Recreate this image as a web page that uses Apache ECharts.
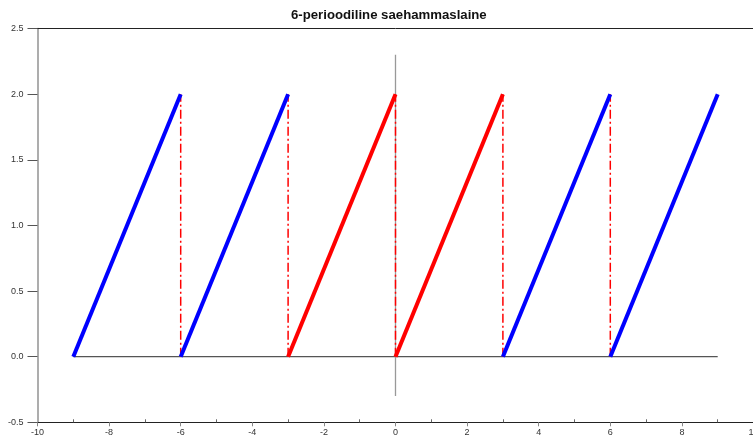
<!DOCTYPE html>
<html>
<head>
<meta charset="utf-8">
<script src="https://cdn.jsdelivr.net/npm/echarts@6/dist/echarts.min.js"></script>
<style>html,body{margin:0;padding:0;background:#fff}#c{width:753px;height:441px}</style>
</head>
<body>
<div id="c"></div>
<script>
const titleText = '6-perioodiline saehammaslaine';
const xTicks = [-10, -8, -6, -4, -2, 0, 2, 4, 6, 8, 10];
const yTicks = [-0.5, 0.0, 0.5, 1.0, 1.5, 2.0, 2.5];
const toothStartX = [-9, -6, -3, 0, 3, 6];
const toothEndX = [-6, -3, 0, 3, 6, 9];
const toothLow = [0, 0, 0, 0, 0, 0];
const toothHigh = [2, 2, 2, 2, 2, 2];
const toothColor = ['#0000ff', '#0000ff', '#ff0000', '#ff0000', '#0000ff', '#0000ff'];
const jumpX = [-6, -3, 0, 3, 6];
const jumpLow = [0, 0, 0, 0, 0];
const jumpHigh = [2, 2, 2, 2, 2];
const hAxisX = [-9, 9];
const hAxisY = [0, 0];
const vAxisX = [0, 0];
const vAxisY = [-0.3, 2.3];

const chart = echarts.init(document.getElementById('c'), null, {renderer: 'canvas'});
const series = [];
series.push({type: 'line', xAxisIndex: 0, yAxisIndex: 0, symbol: 'none', silent: true,
  data: hAxisX.map((x, i) => [x, hAxisY[i]]), lineStyle: {color: '#555', width: 1.3}});
series.push({type: 'line', xAxisIndex: 0, yAxisIndex: 0, symbol: 'none', silent: true,
  data: vAxisX.map((x, i) => [x, vAxisY[i]]), lineStyle: {color: '#999', width: 1.3}});
jumpX.forEach((x, i) => series.push({type: 'line', xAxisIndex: 0, yAxisIndex: 0, symbol: 'none', silent: true,
  data: [[x, jumpLow[i]], [x, jumpHigh[i]]],
  lineStyle: {color: '#ff0000', width: 1.5, type: [9, 3, 2, 3]}}));
toothStartX.forEach((x, i) => series.push({type: 'line', xAxisIndex: 0, yAxisIndex: 0, symbol: 'none', silent: true,
  data: [[x, toothLow[i]], [toothEndX[i], toothHigh[i]]],
  lineStyle: {color: toothColor[i], width: 4, cap: 'butt'}}));

const lbl = {fontFamily: 'Liberation Sans, Arial, sans-serif', fontSize: 9, color: '#333'};
chart.setOption({
  animation: false,
  title: {text: titleText, left: 286, top: 4,
    textStyle: {fontFamily: 'Liberation Sans, Arial, sans-serif', fontSize: 13.2, fontWeight: 'bold', color: '#111'}},
  grid: [
    {left: 37.5, top: 28.5, width: 716, height: 393.8, containLabel: false, outerBoundsMode: 'none'},
    {left: 37.5 + 35.8, top: 28.5, width: 716 - 71.6, height: 393.8, containLabel: false, outerBoundsMode: 'none'}
  ],
  xAxis: [
    {type: 'value', gridIndex: 0, position: 'bottom', min: xTicks[0], max: xTicks[xTicks.length - 1], interval: 2,
      axisLine: {show: true, onZero: false, lineStyle: {color: '#222', width: 1}},
      axisTick: {show: true, inside: false, length: 4, lineStyle: {color: '#888'}},
      axisLabel: Object.assign({margin: 6, formatter: v => String(v)}, lbl),
      splitLine: {show: false}},
    {type: 'value', gridIndex: 0, position: 'top', min: xTicks[0], max: xTicks[xTicks.length - 1],
      axisLine: {show: true, onZero: false, lineStyle: {color: '#222', width: 1}},
      axisTick: {show: false}, axisLabel: {show: false}, splitLine: {show: false}},
    {type: 'value', gridIndex: 1, position: 'bottom', min: -9, max: 9, interval: 2,
      axisLine: {show: false, onZero: false},
      axisTick: {show: true, inside: true, length: 3, lineStyle: {color: '#666'}},
      axisLabel: {show: false}, splitLine: {show: false}}
  ],
  yAxis: [
    {type: 'value', gridIndex: 0, position: 'left', min: yTicks[0], max: yTicks[yTicks.length - 1], interval: 0.5,
      axisLine: {show: true, onZero: false, lineStyle: {color: '#999', width: 1.6}},
      axisTick: {show: true, inside: false, length: 10, lineStyle: {color: '#555'}},
      axisLabel: Object.assign({margin: 14, formatter: v => v.toFixed(1)}, lbl),
      splitLine: {show: false}},
    {type: 'value', gridIndex: 1, min: 0, max: 1, show: false}
  ],
  series: series
});
</script>
</body>
</html>
